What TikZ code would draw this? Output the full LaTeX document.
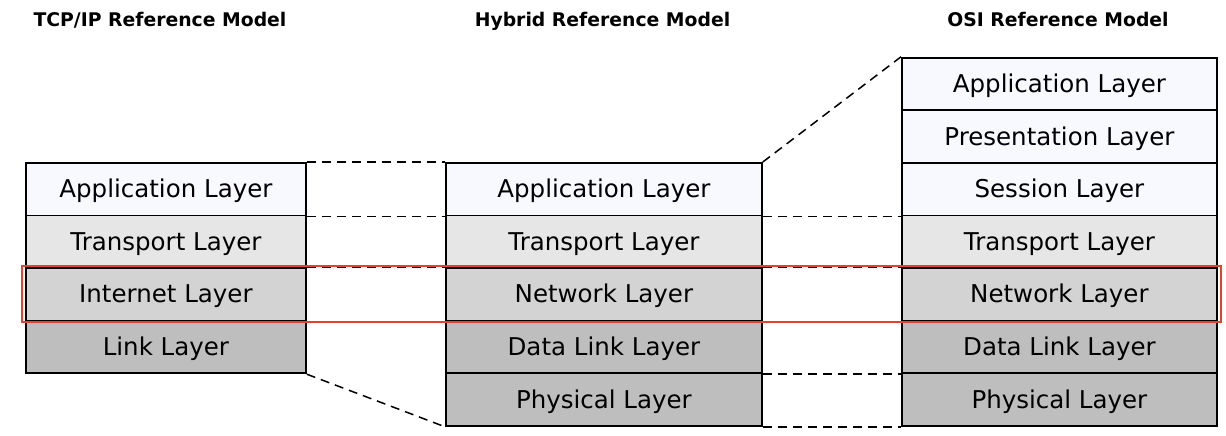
\documentclass[tikz,border=0pt]{standalone}
\usepackage{fontspec}
\setmainfont{DejaVu Sans}
\definecolor{appc}{HTML}{F8F8FF}
\definecolor{trac}{HTML}{E6E6E6}
\definecolor{netc}{HTML}{D3D3D3}
\definecolor{linc}{HTML}{BEBEBE}
\definecolor{hlred}{HTML}{E2442B}
\begin{document}
\begin{tikzpicture}[x=1pt,y=-1pt,
  layer/.style={draw=black, line width=1.8pt, anchor=north west, inner sep=0pt,
    font=\fontsize{24.5}{28}\selectfont, text height=17pt, text depth=0pt},
  tcpl/.style={layer, minimum width=280pt, minimum height=52.6pt},
  hybl/.style={layer, minimum width=316pt, minimum height=52.6pt},
  osil/.style={layer, minimum width=315pt, minimum height=52.6pt},
  title/.style={font=\bfseries\fontsize{18.8}{22}\selectfont, anchor=base},
  link/.style={line width=1.5pt, dash pattern=on 9pt off 6pt}]
\useasboundingbox (0,0) rectangle (1226,436);
% titles
\node[title] (t1) at (160,27) {TCP/IP Reference Model};
\node[title] (t2) at (602.5,27) {Hybrid Reference Model};
\node[title] (t3) at (1058,27) {OSI Reference Model};
% TCP/IP
\node[tcpl, fill=appc] (ta) at (25,162) {Application Layer};
\node[tcpl, fill=trac] (tt) at (25,214.6) {Transport Layer};
\node[tcpl, fill=netc] (ti) at (25,267.2) {Internet Layer};
\node[tcpl, fill=linc] (tl) at (25,319.8) {Link Layer};
% Hybrid
\node[hybl, fill=appc] (ha) at (445,162) {Application Layer};
\node[hybl, fill=trac] (ht) at (445,214.6) {Transport Layer};
\node[hybl, fill=netc] (hn) at (445,267.2) {Network Layer};
\node[hybl, fill=linc] (hd) at (445,319.8) {Data Link Layer};
\node[hybl, fill=linc] (hp) at (445,372.4) {Physical Layer};
% OSI
\node[osil, fill=appc] (oa) at (901,56.8) {Application Layer};
\node[osil, fill=appc] (opr) at (901,109.4) {Presentation Layer};
\node[osil, fill=appc] (os) at (901,162) {Session Layer};
\node[osil, fill=trac] (ot) at (901,214.6) {Transport Layer};
\node[osil, fill=netc] (on) at (901,267.2) {Network Layer};
\node[osil, fill=linc] (od) at (901,319.8) {Data Link Layer};
\node[osil, fill=linc] (op) at (901,372.4) {Physical Layer};
% dashed connectors TCP/IP - Hybrid
\draw[link] (ta.north east) -- (ha.north west);
\draw[link] (ta.south east) -- (ha.south west);
\draw[link] (ti.north east) -- (hn.north west);
\draw[link] (ti.south east) -- (hn.south west);
\draw[link] (tl.south east) -- (hp.south west);
% dashed connectors Hybrid - OSI
\draw[link] (ha.north east) -- (oa.north west);
\draw[link] (ha.south east) -- (os.south west);
\draw[link] (hn.north east) -- (on.north west);
\draw[link] (hn.south east) -- (on.south west);
\draw[link] (hd.south east) -- (od.south west);
\draw[link] (hp.south east) -- (op.south west);
% highlight
\node[draw=hlred, line width=2.2pt, minimum width=1199pt, minimum height=55.5pt, anchor=north west, inner sep=0pt] (hl) at (20.5,265.2) {};
\end{tikzpicture}
\end{document}
